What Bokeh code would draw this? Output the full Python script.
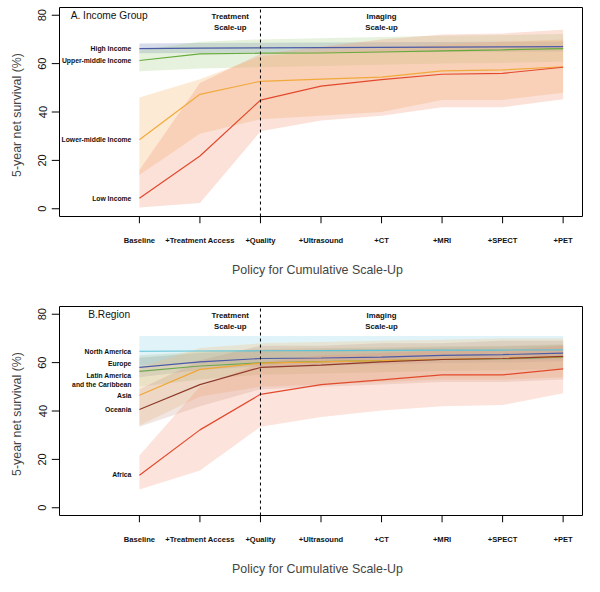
from bokeh.plotting import figure
from bokeh.models import Range1d, FixedTicker
from bokeh.layouts import column
from bokeh.embed import file_html
from bokeh.resources import INLINE
from bokeh.core.properties import value

# ---------------- data ----------------
policies = ["Baseline", "+Treatment Access", "+Quality", "+Ultrasound",
            "+CT", "+MRI", "+SPECT", "+PET"]
steps = list(range(len(policies)))
y_ticks = [0, 20, 40, 60, 80]
xlim = [-1, 7]
ylim = [0, 80]

# Panel A: income group
income_names = ["High Income", "Upper-middle Income", "Lower-middle Income", "Low Income"]
high_mean = [66.2, 66.4, 66.5, 66.6, 66.7, 66.8, 66.9, 67.0]
high_lo = [64.3, 64.4, 64.5, 64.6, 64.7, 64.8, 64.9, 65.0]
high_hi = [68.3, 68.5, 68.6, 68.7, 68.8, 68.9, 69.0, 69.1]
umid_mean = [61.3, 64.0, 64.3, 64.4, 64.8, 65.3, 65.7, 66.2]
umid_lo = [56.8, 58.0, 58.5, 59.0, 59.5, 60.0, 60.3, 60.8]
umid_hi = [65.5, 69.0, 70.0, 70.5, 71.0, 71.5, 71.8, 72.2]
lmid_mean = [28.5, 47.3, 52.7, 53.6, 54.4, 57.0, 57.4, 58.7]
lmid_lo = [14.0, 31.0, 37.0, 38.5, 40.0, 45.0, 45.0, 48.0]
lmid_hi = [46.0, 53.5, 63.0, 65.0, 66.0, 68.0, 69.0, 70.0]
low_mean = [4.3, 21.8, 44.9, 50.7, 53.4, 55.6, 56.0, 58.5]
low_lo = [0.5, 2.4, 32.0, 36.5, 38.5, 42.0, 42.0, 45.3]
low_hi = [16.0, 52.0, 64.0, 67.0, 70.0, 72.0, 72.5, 74.0]

# Panel B: region
region_names = ["North America", "Europe", "Latin America\nand the Caribbean",
                "Asia", "Oceania", "Africa"]
region_label_y = [64.8, 59.6, 53.0, 46.5, 40.7, 13.6]
na_mean = [64.7, 64.8, 64.9, 65.0, 65.1, 65.2, 65.2, 65.3]
na_lo = [59.0, 59.5, 60.0, 60.5, 61.0, 61.0, 61.0, 61.5]
na_hi = [71.0, 71.0, 71.0, 71.0, 71.0, 71.0, 71.0, 71.0]
eu_mean = [58.0, 60.3, 61.7, 61.9, 62.3, 63.0, 63.3, 63.9]
eu_lo = [54.0, 57.0, 58.5, 58.8, 59.2, 59.8, 60.0, 60.6]
eu_hi = [62.0, 64.0, 65.0, 65.3, 65.7, 66.3, 66.6, 67.2]
la_mean = [56.4, 58.6, 59.9, 60.4, 60.8, 61.3, 61.6, 62.3]
la_lo = [50.0, 53.0, 55.0, 55.5, 56.0, 56.5, 56.8, 57.5]
la_hi = [63.0, 64.5, 65.5, 66.0, 66.3, 66.8, 67.0, 67.6]
as_mean = [46.5, 57.2, 59.8, 60.3, 60.8, 61.4, 61.8, 62.5]
as_lo = [34.0, 46.0, 50.0, 51.0, 52.0, 53.0, 53.0, 54.0]
as_hi = [58.0, 66.0, 68.0, 68.5, 69.0, 69.5, 70.0, 70.0]
oc_mean = [40.6, 50.9, 58.0, 59.0, 60.3, 61.3, 61.7, 62.6]
oc_lo = [33.5, 42.0, 49.0, 50.0, 51.0, 52.0, 52.0, 53.0]
oc_hi = [49.0, 61.0, 67.0, 67.0, 68.0, 68.0, 69.0, 69.0]
af_mean = [13.4, 32.2, 46.9, 50.9, 52.9, 54.9, 54.9, 57.4]
af_lo = [7.6, 15.4, 33.5, 37.5, 40.2, 42.0, 42.5, 47.3]
af_hi = [21.6, 50.0, 60.0, 63.0, 64.0, 65.0, 65.0, 67.0]

FONT = value("Liberation Sans")

# box limits: R-style 4% extension of xlim / ylim
bx0 = xlim[0] - 0.04 * (xlim[1] - xlim[0])
bx1 = xlim[1] + 0.04 * (xlim[1] - xlim[0])
by0 = ylim[0] - 0.04 * (ylim[1] - ylim[0])
by1 = ylim[1] + 0.04 * (ylim[1] - ylim[0])

FRAME_W, FRAME_H = 532, 217
TICK_X, TICK_Y = 8, 7          # tick lengths in px (y-axis ticks, x-axis ticks)
ppx = (FRAME_W - TICK_X - 1) / (bx1 - bx0)
ppy = (FRAME_H - TICK_Y - 1) / (by1 - by0)


def make_panel(border_bottom, title, groups, label_names, label_y):
    p = figure(frame_width=FRAME_W, frame_height=FRAME_H,
               output_backend="svg", toolbar_location=None,
               x_range=Range1d(bx0 - TICK_X / ppx, bx1 + 1 / ppx),
               y_range=Range1d(by0 - TICK_Y / ppy, by1 + 1 / ppy),
               min_border_left=51, min_border_right=1, min_border_top=6,
               min_border_bottom=border_bottom)
    p.grid.visible = False
    p.outline_line_color = None
    p.background_fill_color = "white"
    p.border_fill_color = "white"

    for mean, lo, hi, lc, fc, fa in groups:
        p.varea(x=steps, y1=lo, y2=hi, fill_color=fc, fill_alpha=fa)
    for mean, lo, hi, lc, fc, fa in groups:
        p.line(steps, mean, line_color=lc, line_width=1.2)

    q = steps[policies.index("+Quality")]
    p.segment(x0=[q], y0=[by0], x1=[q], y1=[by1], line_color="black",
              line_dash="3 3", line_width=1)

    # box and tick marks (R style)
    p.quad(left=[bx0], right=[bx1], bottom=[by0], top=[by1], fill_color=None,
           line_color="black", line_width=1)
    p.segment(x0=steps, y0=[by0] * len(steps), x1=steps,
              y1=[by0 - TICK_Y / ppy] * len(steps), line_color="black", line_width=1)
    p.segment(x0=[bx0] * len(y_ticks), y0=y_ticks, x1=[bx0 - TICK_X / ppx] * len(y_ticks),
              y1=y_ticks, line_color="black", line_width=1)

    p.text(x=[steps[0]] * len(label_names), y=label_y, text=label_names,
           x_offset=-8, text_align="right", text_baseline="middle",
           text_font=FONT, text_font_size="6.8px", text_font_style="bold",
           text_color="#111111", text_line_height=1.3)

    p.text(x=[1.5, 4.0], y=[77.3, 77.3], text=["Treatment\nScale-up", "Imaging\nScale-up"],
           text_align="center", text_baseline="middle", text_font=FONT,
           text_font_size="7.8px", text_font_style="bold", text_color="#111111",
           text_line_height=1.25)
    p.text(x=[-0.5], y=[80], text=[title], text_align="center", text_baseline="middle",
           text_font=FONT, text_font_size="10.2px", text_color="#111111")

    xa = p.xaxis[0]
    ya = p.yaxis[0]
    xa.ticker = FixedTicker(ticks=steps)
    ya.ticker = FixedTicker(ticks=y_ticks)
    for a in (xa, ya):
        a.axis_line_color = None
        a.major_tick_line_color = None
        a.minor_tick_line_color = None
        a.major_tick_out = 0
        a.major_tick_in = 0
        a.axis_label_text_font = "Liberation Sans"
        a.axis_label_text_font_size = "12.4px"
        a.axis_label_text_font_style = "normal"
        a.major_label_text_font = "Liberation Sans"
        a.major_label_text_color = "#111111"

    xa.major_label_overrides = {s: lab for s, lab in zip(steps, policies)}
    xa.major_label_standoff = 12
    xa.major_label_text_font_size = "7.6px"
    xa.major_label_text_font_style = "bold"
    xa.axis_label = "Policy for Cumulative Scale-Up"
    xa.axis_label_standoff = 15

    ya.major_label_orientation = "vertical"
    ya.major_label_standoff = 5
    ya.major_label_text_font_size = "11px"
    ya.axis_label = "5-year net survival (%)"
    ya.axis_label_standoff = 12
    return p


income_groups = [
    (high_mean, high_lo, high_hi, "#4B5BA6", "#7080B8", 0.28),
    (umid_mean, umid_lo, umid_hi, "#66AA3C", "#9CCB78", 0.25),
    (lmid_mean, lmid_lo, lmid_hi, "#F2A93B", "#F7B875", 0.30),
    (low_mean, low_lo, low_hi, "#E2492D", "#F29070", 0.27),
]
region_groups = [
    (na_mean, na_lo, na_hi, "#5CC3D6", "#A6DCEA", 0.35),
    (eu_mean, eu_lo, eu_hi, "#4B5BA6", "#7080A8", 0.22),
    (la_mean, la_lo, la_hi, "#6AA84F", "#95B878", 0.22),
    (as_mean, as_lo, as_hi, "#EFA735", "#F5BE7A", 0.28),
    (oc_mean, oc_lo, oc_hi, "#8E3B2C", "#B88070", 0.20),
    (af_mean, af_lo, af_hi, "#E24A2E", "#F29070", 0.25),
]

p1 = make_panel(76, "A. Income Group", income_groups, income_names,
                [g[0][0] for g in income_groups])
p2 = make_panel(54, "B.Region", region_groups, region_names, region_label_y)

layout = column(p1, p2, spacing=0)
open("out.html", "w").write(file_html(layout, INLINE))
